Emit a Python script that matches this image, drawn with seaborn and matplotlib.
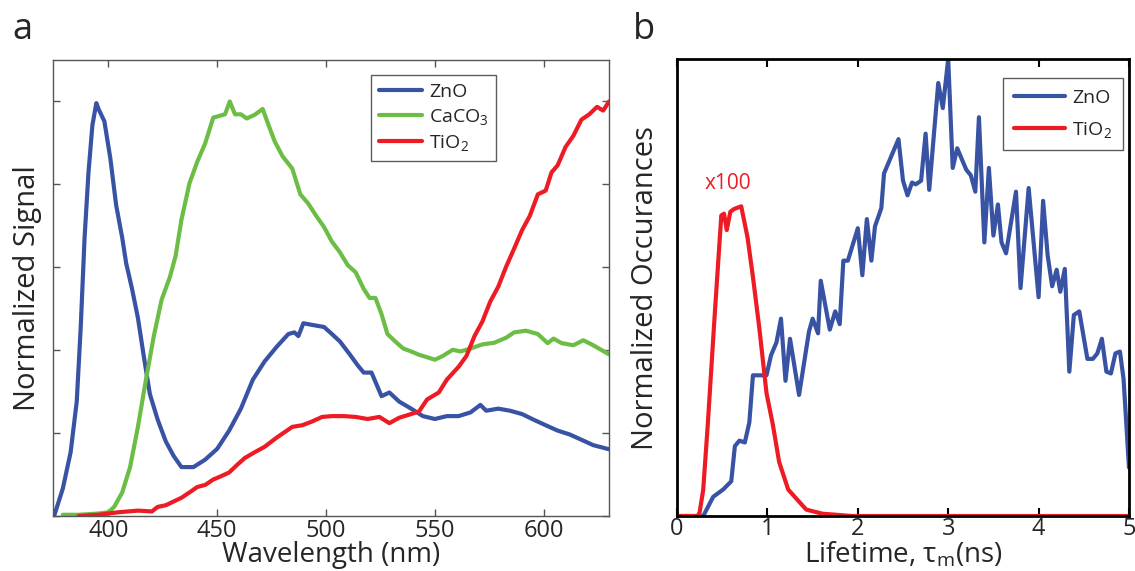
import numpy as np
import pandas as pd
import seaborn as sns
import matplotlib.pyplot as plt

# ---- panel a: normalized spectra ----
zno_wl = [375.1, 379.1, 382.7, 385.5, 387.3, 389.1, 390.9, 392.7, 394.5, 395.5, 398.2, 400.9,
          403.6, 406.4, 408.2, 410.9, 413.6, 416.4, 419.1, 422.7, 426.4, 430.0, 433.6, 439.1,
          444.5, 450.0, 455.5, 460.9, 466.4, 471.8, 477.3, 482.7, 485.5, 487.3, 489.6, 493.6,
          499.1, 502.7, 506.4, 510.9, 514.5, 517.3, 520.9, 525.5, 529.1, 533.6, 539.1, 544.5,
          550.0, 555.5, 560.9, 566.4, 570.9, 573.6, 579.1, 584.5, 590.0, 595.5, 600.9, 606.4,
          611.8, 617.3, 622.7, 630.0]
zno_sig = [0.0, 0.066, 0.154, 0.276, 0.452, 0.671, 0.829, 0.943, 0.996, 0.982, 0.952, 0.864,
           0.75, 0.671, 0.61, 0.548, 0.478, 0.382, 0.294, 0.232, 0.18, 0.145, 0.118, 0.118,
           0.136, 0.162, 0.206, 0.259, 0.329, 0.373, 0.408, 0.439, 0.443, 0.434, 0.465, 0.461,
           0.456, 0.439, 0.421, 0.39, 0.364, 0.346, 0.346, 0.289, 0.298, 0.276, 0.259, 0.241,
           0.234, 0.241, 0.241, 0.25, 0.268, 0.254, 0.259, 0.254, 0.246, 0.232, 0.219, 0.206,
           0.197, 0.184, 0.171, 0.161]

caco3_wl = [379.1, 386.4, 395.5, 400.0, 402.7, 406.4, 410.0, 413.6, 417.3, 420.9, 424.5, 428.2,
            430.9, 433.6, 437.3, 440.9, 444.5, 448.2, 450.9, 453.6, 455.8, 458.2, 460.9, 463.6,
            467.3, 470.9, 473.6, 476.4, 480.0, 484.5, 488.2, 491.8, 495.5, 499.1, 502.7, 506.4,
            510.0, 513.6, 517.3, 520.0, 522.7, 525.5, 528.2, 531.8, 535.5, 539.1, 542.7, 546.4,
            550.0, 553.6, 558.2, 561.8, 566.4, 571.8, 577.3, 582.7, 586.4, 591.8, 597.3, 601.8,
            604.5, 608.2, 613.6, 618.2, 622.7, 630.0]
caco3_sig = [0.003, 0.003, 0.006, 0.009, 0.022, 0.057, 0.118, 0.215, 0.329, 0.434, 0.522, 0.575,
             0.627, 0.715, 0.803, 0.855, 0.899, 0.961, 0.965, 0.969, 1.0, 0.969, 0.969, 0.959,
             0.968, 0.982, 0.943, 0.904, 0.868, 0.838, 0.776, 0.754, 0.724, 0.697, 0.662, 0.636,
             0.605, 0.588, 0.548, 0.526, 0.526, 0.487, 0.439, 0.421, 0.404, 0.397, 0.389, 0.383,
             0.377, 0.386, 0.401, 0.397, 0.404, 0.414, 0.418, 0.43, 0.443, 0.447, 0.439, 0.417,
             0.428, 0.417, 0.412, 0.424, 0.412, 0.39]

tio2_wl = [386.4, 395.5, 404.5, 413.6, 420.0, 422.7, 426.4, 430.0, 433.6, 437.3, 440.9, 444.5,
           448.2, 451.8, 455.5, 459.1, 462.7, 467.3, 471.8, 477.3, 480.9, 484.5, 489.1, 493.6,
           498.2, 502.7, 508.2, 513.6, 519.1, 524.5, 529.1, 533.6, 539.1, 542.7, 546.4, 551.8,
           555.5, 560.9, 564.5, 568.2, 571.8, 575.5, 579.1, 582.7, 586.4, 590.0, 593.6, 597.3,
           600.9, 603.6, 606.4, 610.0, 613.6, 617.3, 620.9, 624.5, 627.3, 630.0]
tio2_sig = [0.0, 0.003, 0.009, 0.013, 0.011, 0.022, 0.026, 0.035, 0.044, 0.057, 0.07, 0.075,
            0.088, 0.096, 0.105, 0.123, 0.14, 0.154, 0.167, 0.189, 0.202, 0.215, 0.219, 0.228,
            0.239, 0.241, 0.241, 0.239, 0.234, 0.239, 0.224, 0.237, 0.246, 0.252, 0.281, 0.298,
            0.329, 0.36, 0.386, 0.434, 0.469, 0.518, 0.553, 0.601, 0.645, 0.689, 0.724, 0.776,
            0.785, 0.829, 0.846, 0.89, 0.917, 0.956, 0.969, 0.987, 0.978, 1.0]

# ---- panel b: lifetime histograms ----
zno_tau = [0.0, 0.29, 0.40, 0.51, 0.60, 0.64, 0.69, 0.75, 0.80, 0.84, 0.99, 1.04, 1.10, 1.15,
           1.20, 1.25, 1.35, 1.46, 1.50, 1.56, 1.59, 1.69, 1.75, 1.80, 1.84, 1.89, 2.00, 2.05,
           2.10, 2.15, 2.19, 2.26, 2.29, 2.45, 2.50, 2.55, 2.60, 2.64, 2.70, 2.75, 2.79, 2.89,
           2.94, 3.00, 3.05, 3.10, 3.20, 3.25, 3.30, 3.34, 3.40, 3.45, 3.50, 3.55, 3.59, 3.64,
           3.75, 3.80, 3.89, 4.00, 4.05, 4.10, 4.15, 4.20, 4.24, 4.29, 4.34, 4.39, 4.45, 4.54,
           4.60, 4.65, 4.70, 4.75, 4.80, 4.85, 4.90, 4.94, 5.00]
zno_occ = [0.0, 0.0, 0.042, 0.058, 0.076, 0.153, 0.165, 0.161, 0.205, 0.308, 0.308, 0.352,
           0.38, 0.432, 0.296, 0.388, 0.265, 0.404, 0.432, 0.40, 0.515, 0.408, 0.448, 0.42,
           0.559, 0.559, 0.63, 0.527, 0.65, 0.559, 0.634, 0.674, 0.75, 0.825, 0.734, 0.702,
           0.73, 0.726, 0.734, 0.837, 0.714, 0.948, 0.893, 1.0, 0.762, 0.805, 0.758, 0.746,
           0.71, 0.873, 0.599, 0.762, 0.614, 0.682, 0.599, 0.575, 0.71, 0.499, 0.718, 0.479,
           0.69, 0.571, 0.503, 0.539, 0.491, 0.541, 0.316, 0.44, 0.448, 0.344, 0.344, 0.356,
           0.388, 0.316, 0.312, 0.356, 0.36, 0.30, 0.106]

tio2_tau = [0.0, 0.23, 0.25, 0.29, 0.34, 0.42, 0.49, 0.52, 0.55, 0.59, 0.63, 0.71, 0.78, 0.84,
            0.91, 0.99, 1.06, 1.13, 1.23, 1.32, 1.43, 1.61, 1.94, 5.0]
tio2_occ = [0.0, 0.0, 0.008, 0.058, 0.20, 0.45, 0.658, 0.662, 0.626, 0.666, 0.672, 0.678,
            0.61, 0.523, 0.412, 0.269, 0.20, 0.118, 0.058, 0.038, 0.014, 0.005, 0.0, 0.0]

blue = "#3953a4"
green = "#6cbd45"
red = "#ed1c24"

sns.set_style("ticks")
plt.rcParams["font.family"] = ["Open Sans", "DejaVu Sans"]
plt.rcParams["mathtext.fontset"] = "custom"
plt.rcParams["mathtext.rm"] = "Open Sans"
plt.rcParams["mathtext.it"] = "Open Sans:italic"

fig = plt.figure(figsize=(11.35, 5.71), dpi=100)
ax_a = fig.add_axes([0.0467, 0.0963, 0.4899, 0.7986])
ax_b = fig.add_axes([0.5965, 0.0963, 0.3982, 0.800])

# ========== panel a ==========
sns.lineplot(x=zno_wl, y=zno_sig, ax=ax_a, color=blue, lw=3, label="ZnO", estimator=None)
sns.lineplot(x=caco3_wl, y=caco3_sig, ax=ax_a, color=green, lw=3, label="CaCO$_3$", estimator=None)
sns.lineplot(x=tio2_wl, y=tio2_sig, ax=ax_a, color=red, lw=3, label="TiO$_2$", estimator=None)
ax_a.set_xlim(374.6, 630)
ax_a.set_ylim(0, 1.1)
ax_a.set_xticks([400, 450, 500, 550, 600])
ax_a.set_yticks([0, 0.2, 0.4, 0.6, 0.8, 1.0])
ax_a.set_yticklabels([])
ax_a.tick_params(direction="in", length=5, width=1, color="#555555", top=True, right=True,
                 labelsize=17, pad=2)
for s in ax_a.spines.values():
    s.set_color("#555555")
    s.set_linewidth(1)
ax_a.set_xlabel("Wavelength (nm)", fontsize=20, labelpad=-1)
ax_a.set_ylabel("Normalized Signal", fontsize=21, labelpad=6)
leg = ax_a.legend(loc="upper right", bbox_to_anchor=(0.797, 0.967), borderaxespad=0,
                  fontsize=14, handlelength=2.2, frameon=True, fancybox=False, borderpad=0.4,
                  labelspacing=0.32, handletextpad=0.35)
leg.get_frame().set_edgecolor("#333333")
leg.get_frame().set_linewidth(1)
fig.text(0.011, 0.932, "a", fontsize=26)

# ========== panel b ==========
sns.lineplot(x=zno_tau, y=zno_occ, ax=ax_b, color=blue, lw=3, label="ZnO", estimator=None)
sns.lineplot(x=tio2_tau, y=tio2_occ, ax=ax_b, color=red, lw=3, label="TiO$_2$", estimator=None)
ax_b.set_xlim(0, 5)
ax_b.set_ylim(0, 1.0)
ax_b.set_xticks([0, 1, 2, 3, 4, 5])
ax_b.set_yticks([])
ax_b.tick_params(axis="x", direction="in", length=6, width=1.5, color="black", top=True,
                 labelsize=17, pad=1)
for s in ax_b.spines.values():
    s.set_color("black")
    s.set_linewidth(2)
ax_b.set_xlabel("Lifetime, τ$_{\\rm m}$(ns)", fontsize=20, labelpad=-1)
ax_b.set_ylabel("Normalized Occurances", fontsize=21, labelpad=12)
ax_b.text(0.56, 0.705, "x100", color=red, fontsize=15, ha="center", va="bottom")
leg = ax_b.legend(loc="upper right", bbox_to_anchor=(0.987, 0.958), borderaxespad=0,
                  fontsize=14, handlelength=2.6, frameon=True, fancybox=False, borderpad=0.55,
                  labelspacing=0.65, handletextpad=0.4)
leg.get_frame().set_edgecolor("#333333")
leg.get_frame().set_linewidth(1)
fig.text(0.558, 0.932, "b", fontsize=26)

fig.savefig("out.png", dpi=100)
